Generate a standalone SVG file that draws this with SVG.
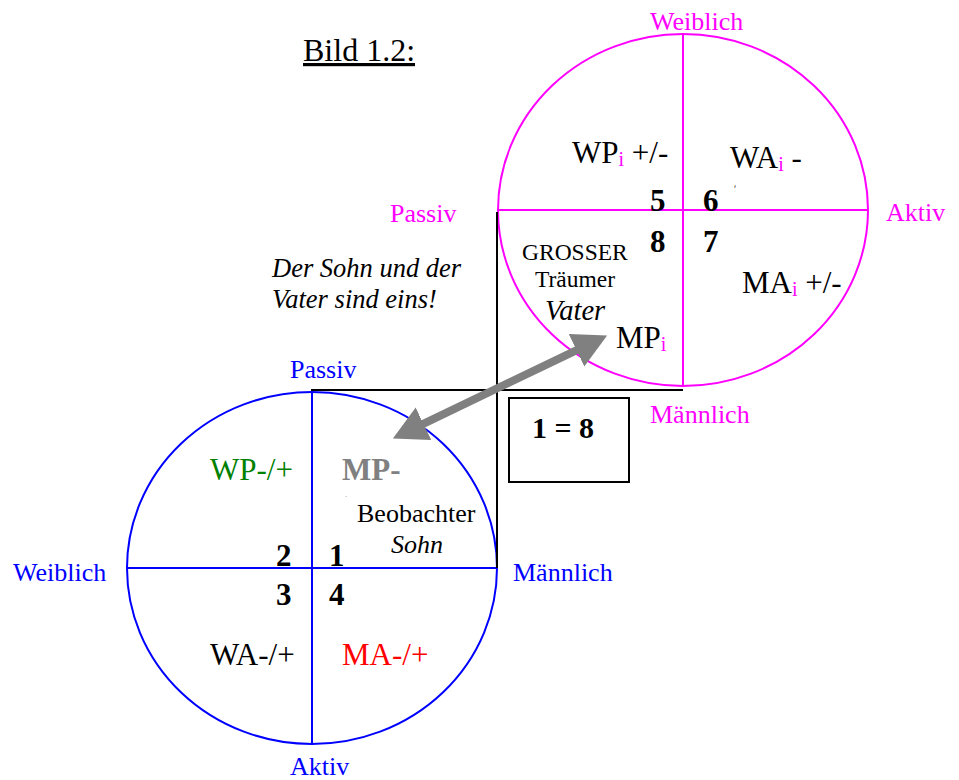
<svg xmlns="http://www.w3.org/2000/svg" width="959" height="780" viewBox="0 0 959 780">
  <style>
    text { font-family: "Liberation Serif", "Times New Roman", serif; }
    .axis-m { stroke: #ff00ff; stroke-width: 2; fill: none; }
    .axis-b { stroke: #0000ff; stroke-width: 2; fill: none; }
    .frame { stroke: #000; stroke-width: 2; fill: none; }
    .lbl-m { fill: #ff00ff; font-size: 26px; }
    .lbl-b { fill: #0000ff; font-size: 26px; }
    .big { font-size: 31px; fill: #000; }
    .num { font-size: 31px; font-weight: bold; fill: #000; }
    .sub { fill: #ff00ff; font-size: 20px; }
    .it { font-style: italic; }
  </style>
  <defs>
    <marker id="head" markerUnits="userSpaceOnUse" markerWidth="36" markerHeight="38" refX="2" refY="18" orient="auto-start-reverse">
      <path d="M0,0 L34,18 L0,36 Z" fill="#808080"/>
    </marker>
  </defs>

  <!-- heading -->
  <g id="title">
    <text x="303" y="61" font-size="32" text-decoration="underline">Bild 1.2:</text>
  </g>

  <g id="motto">
    <text class="it" x="272" y="277" font-size="26.5">Der Sohn und der</text>
    <text class="it" x="272" y="308" font-size="26.5">Vater sind eins!</text>
  </g>

  <!-- upper circle (magenta) -->
  <g id="circle-upper">
    <ellipse class="axis-m" cx="683" cy="210" rx="185" ry="176"/>
    <line class="axis-m" x1="683" y1="34" x2="683" y2="386"/>
    <line class="axis-m" x1="498" y1="210" x2="868" y2="210"/>
    <text class="lbl-m" x="650" y="30">Weiblich</text>
    <text class="lbl-m" x="886" y="221" font-size="25">Aktiv</text>
    <text class="lbl-m" x="390" y="222">Passiv</text>
    <text class="lbl-m" x="650" y="423">Männlich</text>

    <text class="big" x="572" y="163">WP<tspan class="sub" dy="3">i</tspan><tspan dy="-3"> +/-</tspan></text>
    <text class="big" x="730" y="168">WA<tspan class="sub" dy="3">i</tspan><tspan dy="-3"> -</tspan></text>
    <text class="big" x="742" y="293">MA<tspan class="sub" dy="3">i</tspan><tspan dy="-3"> +/-</tspan></text>
    <text class="big" x="616" y="348">MP<tspan class="sub" dy="3">i</tspan></text>
    <text x="734" y="192" font-size="10">ʹ</text>

    <text class="num" x="650" y="211">5</text>
    <text class="num" x="703" y="211">6</text>
    <text class="num" x="650" y="252">8</text>
    <text class="num" x="703" y="252">7</text>

    <text x="522" y="260" font-size="23.5">GROSSER</text>
    <text x="535" y="287" font-size="23.5">Träumer</text>
    <text class="it" x="545" y="320" font-size="28.5">Vater</text>
  </g>

  <!-- lower circle (blue) -->
  <g id="circle-lower">
    <ellipse class="axis-b" cx="312" cy="568" rx="185" ry="176"/>
    <line class="axis-b" x1="312" y1="392" x2="312" y2="744"/>
    <line class="axis-b" x1="127" y1="568" x2="497" y2="568"/>
    <text class="lbl-b" x="290" y="378">Passiv</text>
    <text class="lbl-b" x="13" y="581">Weiblich</text>
    <text class="lbl-b" x="513" y="581">Männlich</text>
    <text class="lbl-b" x="290" y="775">Aktiv</text>

    <text class="big" x="210" y="480" style="fill:#008000">WP-/+</text>
    <text x="342" y="480" font-size="31" font-weight="bold" fill="#808080">MP-</text>
    <text x="345" y="497" font-size="8" fill="#808080">.</text>
    <text x="357" y="522" font-size="26">Beobachter</text>
    <text class="it" x="391" y="553" font-size="26">Sohn</text>

    <text class="num" x="276" y="566">2</text>
    <text class="num" x="329" y="566">1</text>
    <text class="num" x="276" y="605">3</text>
    <text class="num" x="329" y="605">4</text>

    <text class="big" x="210" y="665">WA-/+</text>
    <text class="big" x="342" y="665" style="fill:#ff0000">MA-/+</text>
  </g>

  <!-- equation box -->
  <g id="equation">
    <rect x="509" y="398" width="120" height="84" fill="none" stroke="#000" stroke-width="2"/>
    <text x="532" y="438" font-size="30" font-weight="bold">1 = 8</text>
  </g>

  <!-- connectors -->
  <g id="connectors">
    <line class="frame" x1="311" y1="390" x2="683" y2="390"/>
    <line class="frame" x1="497" y1="212" x2="497" y2="568"/>
    <line x1="421.7" y1="424.7" x2="578.3" y2="349.3" stroke="#808080" stroke-width="8" marker-start="url(#head)" marker-end="url(#head)"/>
  </g>
</svg>
